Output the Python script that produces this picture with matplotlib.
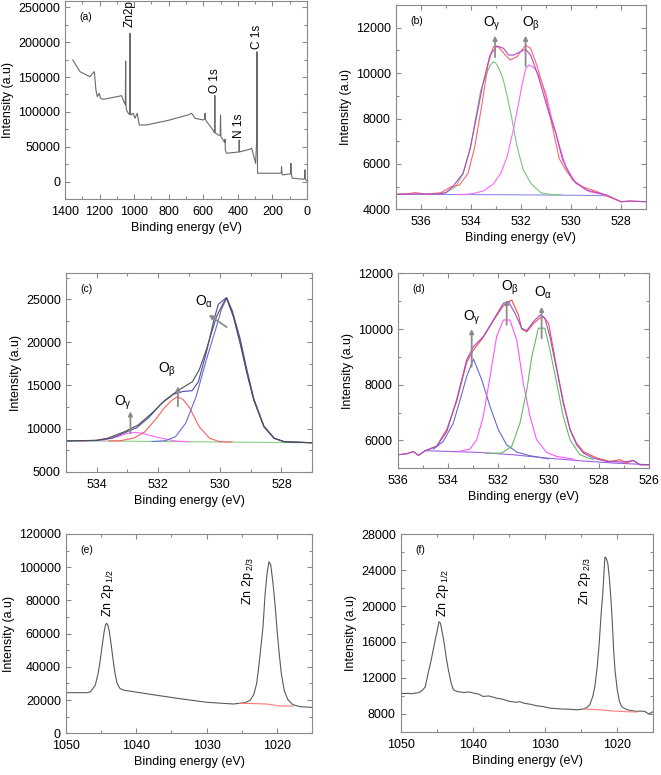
import matplotlib
matplotlib.use("Agg")
import matplotlib.pyplot as plt
from matplotlib.ticker import MultipleLocator

plt.rcParams['font.family'] = ['Liberation Sans', 'DejaVu Sans']
plt.rcParams['font.size'] = 9
plt.rcParams['mathtext.fontset'] = 'custom'
plt.rcParams['mathtext.rm'] = 'Liberation Sans'
plt.rcParams['mathtext.it'] = 'Liberation Sans:italic'
plt.rcParams['axes.edgecolor'] = '#8a8a8a'
plt.rcParams['axes.linewidth'] = 0.8

# ---- (a) survey spectrum ----
a_x = [1355, 1313, 1255, 1236, 1230, 1221, 1213, 1202, 1194, 1178, 1072, 1059, 1051, 1049, 1047,
       1044, 1034, 1026, 1024, 1022, 1018, 1005, 995, 982, 970, 928, 800, 687, 667, 648, 600,
       592, 590, 588, 580, 551, 538, 535, 533, 531, 528, 513, 502, 500, 498, 485, 476, 474, 472,
       465, 394, 392, 390, 330, 320, 302, 297, 291, 289, 286, 157, 149, 147, 145, 142, 99, 95, 93,
       91, 85, 22, 14, 12, 10, 6, 1]
a_y = [174400, 157600, 150400, 156200, 157600, 131400, 121800, 126600, 119500, 118000, 123200,
       114600, 110000, 172900, 110000, 102700, 98000, 96000, 212600, 100000, 95600, 98000, 90800,
       98000, 81200, 81200, 88000, 95600, 98000, 90800, 88400, 90000, 98000, 90000, 86000, 76500,
       71600, 70000, 123500, 70000, 69300, 66900, 66000, 95600, 64500, 59700, 56000, 60700, 45000,
       40700, 42500, 59700, 42600, 46400, 47800, 31100, 26300, 60000, 186200, 12000, 12000, 12500,
       21500, 12000, 9600, 11000, 11500, 26300, 11500, 4900, 3400, 4000, 16800, 4000, 2400, 1000]

# ---- (b) O 1s ----
b_base_x = [537.0, 535.0, 533.0, 531.0, 529.0, 528.5]
b_base_y = [4660, 4655, 4645, 4630, 4610, 4590]
b_g_x = [535.4, 535.0, 534.6, 534.3, 534.0, 533.8, 533.6, 533.4, 533.3, 533.2, 533.1, 533.0,
         532.9, 532.8, 532.7, 532.55, 532.4, 532.15, 531.9, 531.6, 531.2, 530.8, 530.4]
b_g_y = [4680, 4731, 4996, 5590, 6760, 8060, 9250, 9880, 10150, 10380, 10500, 10440, 10250,
         10000, 9700, 9000, 8230, 6760, 5730, 5145, 4730, 4650, 4640]
b_m_x = [534.5, 534.0, 533.5, 533.1, 532.8, 532.55, 532.3, 532.1, 531.95, 531.8, 531.68, 531.55,
         531.4, 531.2, 531.0, 530.75, 530.45, 530.2, 529.8, 529.25, 528.6]
b_m_y = [4650, 4674, 4806, 5115, 5586, 6317, 7493, 8600, 9500, 10200, 10357, 10300, 10136, 9700,
         9110, 7934, 6758, 5877, 5145, 4775, 4630]
b_env_x = [537.0, 536.0, 535.3, 535.0, 534.72, 534.31, 534.04, 533.77, 533.51, 533.23, 532.96,
           532.69, 532.49, 532.29, 532.02, 531.81, 531.61, 531.34, 531.14, 530.95, 530.6, 530.33,
           529.93, 529.38, 528.57, 528.0, 527.64, 527.0]
b_env_y = [4660, 4680, 4670, 4730, 4996, 5586, 6611, 8082, 9551, 10797, 11194, 11093, 10797,
           10797, 10943, 11049, 10797, 9990, 9250, 8500, 7350, 6170, 5291, 4850, 4630, 4335, 4365,
           4335]
b_red_x = [537.0, 536.5, 536.2, 535.8, 535.19, 534.79, 534.45, 534.11, 533.84, 533.57, 533.30,
           533.10, 532.90, 532.62, 532.42, 532.15, 531.81, 531.61, 531.34, 531.0, 530.74, 530.47,
           530.19, 529.79, 529.5, 529.0, 528.44, 528.0, 527.64, 527.0]
b_red_y = [4660, 4690, 4740, 4660, 4731, 4996, 5070, 5586, 6758, 8520, 10432, 11163, 11163, 10797,
           10577, 10723, 11237, 11093, 10282, 8960, 7640, 6245, 5700, 5150, 4980, 4800, 4528, 4335,
           4365, 4335]

# ---- (c) O 1s ----
c_base_x = [535.0, 531.0, 527.0]
c_base_y = [8600, 8480, 8360]
c_gam_x = [534.5, 533.76, 533.32, 533.0, 532.76, 532.5, 532.32, 531.88, 531.44, 531.0]
c_gam_y = [8560, 8677, 9060, 9450, 9570, 9450, 9257, 8875, 8560, 8480]
c_bet_x = [533.6, 533.21, 532.76, 532.43, 532.10, 531.77, 531.55, 531.38, 531.2, 531.0, 530.67,
           530.33, 530.0, 529.6]
c_bet_y = [8560, 8600, 8944, 9640, 11000, 12540, 13300, 13700, 13400, 12540, 10220, 8875, 8480,
           8450]
c_alp_x = [532.2, 531.77, 531.44, 531.11, 530.77, 530.44, 530.11, 529.95, 529.78, 529.56, 529.34,
           529.12, 528.90, 528.57, 528.24, 527.91, 527.0]
c_alp_y = [8500, 8596, 9060, 10615, 13700, 17958, 21820, 23800, 25116, 22981, 19895, 16415, 13318,
           10220, 8875, 8480, 8360]
c_env_x = [535.0, 534.0, 533.65, 533.09, 532.65, 532.21, 531.77, 531.33, 530.89, 530.67, 530.44,
           530.11, 529.89, 529.78, 529.56, 529.34, 529.12, 528.90, 528.57, 528.24, 527.91, 527.0]
c_env_y = [8560, 8650, 8875, 9640, 10420, 11775, 13318, 14480, 15441, 16800, 19117, 22981, 24534,
           25116, 22981, 19895, 16415, 13318, 10220, 8875, 8480, 8360]
c_dat_x = [535.0, 534.0, 533.5, 533.1, 532.7, 532.3, 531.9, 531.5, 531.2, 530.9, 530.7, 530.44,
           530.2, 530.05, 529.85, 529.78, 529.6, 529.34, 529.12, 528.9, 528.57, 528.24, 527.91, 527.0]
c_dat_y = [8560, 8620, 8900, 9500, 10100, 11300, 12900, 14000, 14300, 14400, 15400, 18800, 22500,
           24400, 25000, 25200, 23700, 20400, 16800, 13500, 10300, 8900, 8480, 8360]

# ---- (d) O 1s ----
d_base_x = [534.91, 532.73, 531.41, 530.08, 528.76, 527.43, 526.0]
d_base_y = [5634, 5570, 5487, 5369, 5272, 5190, 5129]
d_gam_x = [534.58, 534.19, 533.79, 533.52, 533.26, 532.99, 532.66, 532.33, 532.0, 531.67, 531.27,
           530.74, 530.0]
d_gam_y = [5692, 5964, 6624, 7459, 8294, 8928, 8176, 7219, 6384, 5846, 5585, 5452, 5340]
d_bet_x = [533.6, 533.13, 532.86, 532.60, 532.33, 532.07, 531.80, 531.54, 531.27, 531.01, 530.74,
           530.48, 530.08, 529.68, 529.0]
d_bet_y = [5600, 5692, 6026, 6861, 8294, 9728, 10326, 10326, 9609, 8058, 6861, 6026, 5570, 5427,
           5330]
d_alp_x = [532.5, 531.87, 531.47, 531.14, 530.87, 530.67, 530.41, 530.15, 529.95, 529.68, 529.42,
           529.15, 528.76, 528.23]
d_alp_y = [5530, 5549, 5785, 6624, 7817, 9011, 10029, 10029, 9251, 8058, 6861, 6026, 5488, 5309]
d_env_x = [536.0, 535.64, 535.38, 535.18, 534.91, 534.45, 534.05, 533.66, 533.26, 532.99, 532.60,
           532.20, 531.80, 531.60, 531.34, 531.07, 530.87, 530.61, 530.34, 530.15, 529.95, 529.68,
           529.42, 529.15, 528.89, 528.62, 528.23, 527.69, 527.03, 526.64, 526.37, 526.0]
d_env_y = [5487, 5523, 5606, 5462, 5634, 5785, 6322, 7459, 8892, 9369, 9728, 10326, 10925, 10982,
           10566, 10030, 9943, 10265, 10505, 10387, 9728, 8533, 7340, 6384, 5846, 5548, 5369, 5248,
           5226, 5283, 5129, 5129]
d_red_x = [536.0, 535.64, 535.38, 535.18, 534.91, 534.45, 534.05, 533.66, 533.26, 532.99, 532.60,
           532.20, 531.80, 531.47, 531.2, 531.07, 530.87, 530.61, 530.34, 530.21, 530.0, 529.68,
           529.42, 529.15, 528.89, 528.62, 528.09, 527.56, 527.16, 526.90, 526.64, 526.37, 526.0]
d_red_y = [5487, 5523, 5606, 5462, 5634, 5800, 6400, 7400, 8800, 9250, 9700, 10300, 10850, 11043,
           10500, 10000, 9900, 10200, 10400, 10445, 10200, 8600, 7400, 6400, 5900, 5600, 5369, 5248,
           5308, 5190, 5283, 5129, 5129]

# ---- (e) Zn 2p ----
e_x = [1050, 1047.0, 1046.5, 1045.8, 1045.4, 1045.1, 1044.8, 1044.55, 1044.35, 1044.2, 1044.0,
       1043.8, 1043.55, 1043.3, 1043.0, 1042.7, 1042.3, 1041.8, 1041.3, 1038.0, 1034.2, 1030.0,
       1026.2, 1025.3, 1024.5, 1023.8, 1023.3, 1022.9, 1022.6, 1022.3, 1022.0, 1021.7, 1021.4,
       1021.15, 1020.9, 1020.6, 1020.3, 1020.0, 1019.7, 1019.4, 1019.0, 1018.5, 1017.8, 1016.7,
       1015.0]
e_y = [24460, 24460, 24900, 29000, 36000, 44000, 53500, 61000, 65300, 66260, 65000, 61000, 53500,
       45000, 36000, 30000, 27000, 26000, 25660, 23490, 21080, 18670, 17650, 18070, 18500, 20000,
       23500, 30000, 40000, 52000, 64000, 84000, 97000, 103300, 101500, 91000, 78000, 62000,
       48000, 36000, 26000, 20500, 17300, 16000, 15600]
e_base_x = [1025.3, 1023.4, 1021.5, 1019.6, 1017.7]
e_base_y = [18070, 17900, 17650, 16450, 16450]

# ---- (f) Zn 2p ----
f_x = [1050, 1049.5, 1049, 1048.5, 1048, 1047.5, 1047.0, 1046.6, 1046.2, 1045.8, 1045.5, 1045.2,
       1044.9, 1044.7, 1044.5, 1044.3, 1044.0, 1043.7, 1043.4, 1043.0, 1042.7, 1042.2, 1041.3,
       1040.5, 1039.9, 1039.2, 1038.6, 1037.8, 1036.7, 1035.8, 1034.9, 1034.0, 1033.5, 1033.0,
       1032.0, 1031.2, 1030.3, 1029.3, 1028.3, 1027.5, 1026.6, 1025.6, 1024.7, 1024.2, 1023.8,
       1023.4, 1023.1, 1022.8, 1022.5, 1022.2, 1022.0, 1021.8, 1021.7, 1021.5, 1021.3, 1021.1,
       1020.9, 1020.7, 1020.5, 1020.3, 1020.0, 1019.7, 1019.4, 1018.8, 1018.2, 1017.6, 1017.3,
       1016.8, 1016.2, 1015.7, 1015.3, 1015.0]
f_y = [10300, 10250, 10280, 10230, 10300, 10350, 10600, 11000, 12500, 13900, 15100, 16300, 17400,
       18260, 18100, 17300, 16000, 14300, 12900, 11400, 10670, 10480, 10370, 10420, 10300, 10200,
       9930, 9980, 9740, 9600, 9370, 9280, 9350, 9190, 9050, 8890, 8800, 8630, 8560, 8520, 8500,
       8440, 8520, 8700, 9000, 9900, 11030, 13000, 15850, 19500, 21410, 24300, 25480, 25300, 24740,
       23200, 21030, 18500, 15110, 12800, 10670, 9400, 8810, 8500, 8370, 8300, 8260, 8300, 8260,
       8000, 8100, 8260]
f_base_x = [1024.7, 1022.5, 1020.5, 1018.5, 1017.3]
f_base_y = [8520, 8450, 8300, 8220, 8200]


def style(ax, xlim, ylim, xmaj, xmin, ymaj, ymin, tag):
    ax.set_xlim(*xlim)
    ax.set_ylim(*ylim)
    ax.xaxis.set_major_locator(MultipleLocator(xmaj))
    ax.xaxis.set_minor_locator(MultipleLocator(xmin))
    ax.yaxis.set_major_locator(MultipleLocator(ymaj))
    ax.yaxis.set_minor_locator(MultipleLocator(ymin))
    ax.tick_params(which='both', direction='in', top=True, right=True, color='#8a8a8a',
                   labelsize=9)
    ax.tick_params(axis='x', which='major', pad=5)
    ax.tick_params(which='major', length=3.5, width=0.8)
    ax.tick_params(which='minor', length=2, width=0.8)
    ax.set_xlabel('Binding energy (eV)', fontsize=9, labelpad=3)
    ax.set_ylabel('Intensity (a.u)', fontsize=9, labelpad=3)
    ax.text(0.06, 0.92, tag, transform=ax.transAxes, fontsize=7.5, va='center')


def arrow(ax, x, y0, y1, x1=None):
    if x1 is None:
        x1 = x
    ax.annotate('', xy=(x1, y1), xytext=(x, y0),
                arrowprops=dict(arrowstyle='-|>', lw=1.3, ec='#8c8c8c', fc='black',
                                mutation_scale=6, shrinkA=0, shrinkB=0))


fig = plt.figure(figsize=(6.61, 7.75), dpi=100)
ax_a = fig.add_axes([0.0983, 0.7432, 0.3661, 0.2555])
ax_b = fig.add_axes([0.5986, 0.7299, 0.3787, 0.2636])
ax_c = fig.add_axes([0.0994, 0.3913, 0.3731, 0.2560])
ax_d = fig.add_axes([0.6017, 0.3957, 0.3806, 0.2516])
ax_e = fig.add_axes([0.0994, 0.0538, 0.3731, 0.2572])
ax_f = fig.add_axes([0.6062, 0.0559, 0.3822, 0.2546])

# (a)
ax_a.plot(a_x, a_y, color='#6a6a6a', lw=0.8)
style(ax_a, (1400, 0), (-25000, 259000), 200, 100, 50000, 25000, '(a)')
ax_a.text(1026, 222000, 'Zn2p', rotation=90, ha='center', va='bottom', fontsize=8.5)
ax_a.text(534, 127000, 'O 1s', rotation=90, ha='center', va='bottom', fontsize=8.5)
ax_a.text(392, 62000, 'N 1s', rotation=90, ha='center', va='bottom', fontsize=8.5)
ax_a.text(289, 190000, 'C 1s', rotation=90, ha='center', va='bottom', fontsize=8.5)

# (b)
ax_b.plot(b_base_x, b_base_y, color='#8c8cf0', lw=0.8)
ax_b.plot(b_g_x, b_g_y, color='#7cc47c', lw=0.8)
ax_b.plot(b_m_x, b_m_y, color='#ff66ff', lw=0.8)
ax_b.plot(b_red_x, b_red_y, color='#ff6666', lw=0.8)
ax_b.plot(b_env_x, b_env_y, color='#b048c8', lw=0.8)
style(ax_b, (537, 527), (4000, 13000), 2, 1, 2000, 1000, '(b)')
arrow(ax_b, 533.03, 10700, 11650)
arrow(ax_b, 531.81, 10300, 11650)
ax_b.text(533.15, 12150, r'O$_{\mathrm{\gamma}}$', ha='center', va='center', fontsize=10)
ax_b.text(531.6, 12150, r'O$_{\mathrm{\beta}}$', ha='center', va='center', fontsize=10)

# (c)
ax_c.plot(c_base_x, c_base_y, color='#88d088', lw=0.8)
ax_c.plot(c_gam_x, c_gam_y, color='#ff66ff', lw=0.8)
ax_c.plot(c_bet_x, c_bet_y, color='#ff6060', lw=0.8)
ax_c.plot(c_alp_x, c_alp_y, color='#6a6ad8', lw=0.8)
ax_c.plot(c_dat_x, c_dat_y, color='#4a4aa8', lw=0.8)
ax_c.plot(c_env_x, c_env_y, color='#505050', lw=0.8)
style(ax_c, (535, 527), (5000, 28000), 2, 1, 5000, 2500, '(c)')
arrow(ax_c, 529.78, 21770, 23190, 530.36)
arrow(ax_c, 531.36, 12600, 14900)
arrow(ax_c, 532.90, 9450, 12000)
ax_c.text(530.5, 24720, r'O$_{\mathrm{\alpha}}$', ha='center', va='center', fontsize=10)
ax_c.text(531.7, 16800, r'O$_{\mathrm{\beta}}$', ha='center', va='center', fontsize=10)
ax_c.text(533.15, 12935, r'O$_{\mathrm{\gamma}}$', ha='center', va='center', fontsize=10)

# (d)
ax_d.plot(d_base_x, d_base_y, color='#a060e0', lw=0.8)
ax_d.plot(d_gam_x, d_gam_y, color='#6a6ac8', lw=0.8)
ax_d.plot(d_bet_x, d_bet_y, color='#ff55ff', lw=0.8)
ax_d.plot(d_alp_x, d_alp_y, color='#66b866', lw=0.8)
ax_d.plot(d_red_x, d_red_y, color='#ff4848', lw=0.8)
ax_d.plot(d_env_x, d_env_y, color='#9a50d0', lw=0.8)
style(ax_d, (536, 526), (5000, 12000), 2, 1, 2000, 1000, '(d)')
arrow(ax_d, 533.06, 8650, 10000)
arrow(ax_d, 531.67, 10150, 11050)
arrow(ax_d, 530.28, 9670, 10800)
ax_d.text(533.06, 10400, r'O$_{\mathrm{\gamma}}$', ha='center', va='center', fontsize=10)
ax_d.text(531.54, 11480, r'O$_{\mathrm{\beta}}$', ha='center', va='center', fontsize=10)
ax_d.text(530.21, 11300, r'O$_{\mathrm{\alpha}}$', ha='center', va='center', fontsize=10)

# (e)
ax_e.plot(e_x, e_y, color='#5a5a5a', lw=0.8)
ax_e.plot(e_base_x, e_base_y, color='#ff7a7a', lw=0.8)
style(ax_e, (1050, 1015), (0, 120000), 10, 5, 20000, 10000, '(e)')
ax_e.text(1044.0, 70000, r'Zn 2p$_{\mathrm{\ 1/2}}$', rotation=90, ha='center', va='bottom',
          fontsize=9)
ax_e.text(1024.1, 77000, r'Zn 2p$_{\mathrm{\ 2/3}}$', rotation=90, ha='center', va='bottom',
          fontsize=9)

# (f)
ax_f.plot(f_x, f_y, color='#5a5a5a', lw=0.8)
ax_f.plot(f_base_x, f_base_y, color='#ff7a7a', lw=0.8)
style(ax_f, (1050, 1015), (6000, 28000), 10, 5, 4000, 2000, '(f)')
ax_f.text(1044.1, 18800, r'Zn 2p$_{\mathrm{\ 1/2}}$', rotation=90, ha='center', va='bottom',
          fontsize=9)
ax_f.text(1024.5, 20100, r'Zn 2p$_{\mathrm{\ 2/3}}$', rotation=90, ha='center', va='bottom',
          fontsize=9)

fig.savefig('out.png', dpi=100)
